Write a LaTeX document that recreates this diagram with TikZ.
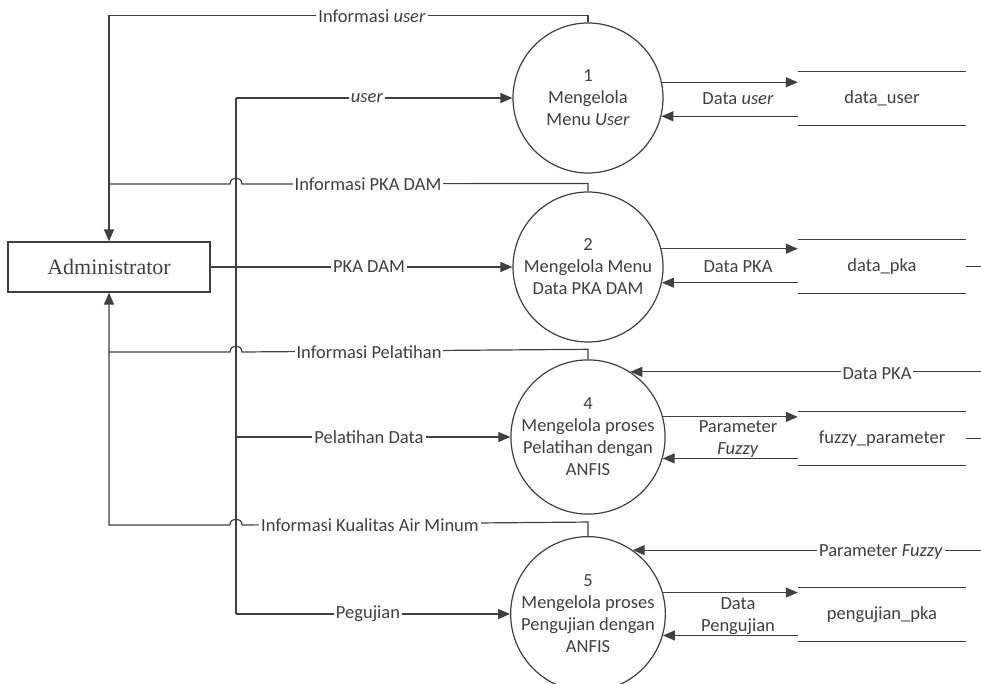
\documentclass[tikz,border=0pt]{standalone}
\usepackage{fontspec}
\setmainfont{Carlito}
\newfontfamily\admfont{Liberation Serif}
\usetikzlibrary{arrows.meta,calc}
\definecolor{ink}{HTML}{404040}
\newcommand\dfdfont{\fontsize{18.5}{22}\selectfont}
\begin{document}
\begin{tikzpicture}[x=1pt,y=-1pt,
  line/.style={draw=ink,line width=1.2pt},
  flow/.style={line,-{Triangle[length=12pt,width=10pt]}},
  proc/.style={circle,draw=ink,line width=1.2pt,minimum size=150pt,inner sep=0pt,
    align=center,text=ink,font=\dfdfont},
  store/.style={minimum width=168pt,minimum height=53pt,inner sep=0pt,text=ink,font=\dfdfont},
  lbl/.style={fill=white,inner sep=2pt,text=ink,font=\dfdfont},
  note/.style={inner sep=0pt,align=center,text=ink,font=\dfdfont},
  entity/.style={draw=ink,line width=1.2pt,minimum width=202pt,minimum height=50pt,
    inner sep=0pt,text=ink,font=\admfont\fontsize{22}{26}\selectfont}]
\useasboundingbox (0,0) rectangle (981,684);
\clip (0,0) rectangle (981,684);

% external entity
\node[entity] (adm) at (109,267) {Administrator};

% processes
\node[proc] (c1) at (588,98)  {1\\Mengelola\\Menu \textit{User}};
\node[proc] (c2) at (588,267) {2\\Mengelola Menu\\Data PKA DAM};
\node[proc] (c4) at (588,437) {4\\Mengelola proses\\Pelatihan dengan\\ANFIS};
\node[proc] (c5) at (588,614) {5\\Mengelola proses\\Pengujian dengan\\ANFIS};

% data stores (open boxes)
\node[store] (ds1) at (882,98.5)  {data\_user};
\node[store] (ds2) at (882,266.5) {data\_pka};
\node[store] (ds3) at (882,438.5) {fuzzy\_parameter};
\node[store] (ds4) at (882,614.5) {pengujian\_pka};
\foreach \s in {ds1,ds2,ds3,ds4}
  \draw[line] (\s.north west) -- (\s.north east) (\s.south west) -- (\s.south east);

% junction points on the two vertical trunks
\coordinate (busTop) at (236,98);
\coordinate (busAdm) at (236,267);
\coordinate (busPel) at (236,437);
\coordinate (busUji) at (236,614);
\coordinate (j2) at (109,184);
\coordinate (j4) at (109,352);
\coordinate (e2) at (981,266.5);
\coordinate (e3) at (981,438.5);

% inputs from the administrator
\draw[line] (adm.east) -- (busAdm);
\draw[line] (busTop) -- (busUji);
\draw[flow] (busTop) -- (c1.west);
\draw[flow] (adm.east) -- (c2.west);
\draw[flow] (busPel) -- (c4.west);
\draw[flow] (busUji) -- (c5.west);

% information flows back to the administrator (with hops over the trunk)
\draw[flow] (c1.north) -- ++(0,-7) -| (adm.north);
\draw[line] (c2.north) -- ++(0,-8) -- (242,184) .. controls (242,176) and (230,176) .. (230,184) -- (j2);
\draw[line] (c4.north) -- ++(0,-10) -- (242,352) .. controls (242,344) and (230,344) .. (230,352) -- (j4);
\draw[flow] (c5.north) -- ++(0,-14) -- (242,525) .. controls (242,517) and (230,517) .. (230,525) -| (adm.south);

% flows between processes and stores
\draw[flow] (c1.12) -- (c1.12 -| ds1.west);
\draw[flow] (c1.-14 -| ds1.west) -- (c1.-14);
\draw[flow] (c2.14) -- (c2.14 -| ds2.west);
\draw[flow] (c2.-12 -| ds2.west) -- (c2.-12);
\draw[flow] (c4.15.5) -- (c4.15.5 -| ds3.west);
\draw[flow] (c4.-16.3 -| ds3.west) -- (c4.-16.3);
\draw[flow] (c5.16.3) -- (c5.16.3 -| ds4.west);
\draw[flow] (c5.-16.3 -| ds4.west) -- (c5.-16.3);

% stubs leaving the stores to the right, and the flows coming back in
\draw[line] (ds2.east) -- (e2);
\draw[line] (ds3.east) -- (e3);
\draw[flow] (c4.57 -| e2) -- (c4.57);
\draw[flow] (c5.55.8 -| e3) -- (c5.55.8);

% flow labels
\node[lbl] at (372,16)  {Informasi \textit{user}};
\node[lbl] at (367,98)  {\textit{user}};
\node[lbl] at (368,184) {Informasi PKA DAM};
\node[lbl] at (369,267) {PKA DAM};
\node[lbl] at (369,352) {Informasi Pelatihan};
\node[lbl] at (369,437) {Pelatihan Data};
\node[lbl] at (370,525) {Informasi Kualitas Air Minum};
\node[lbl] at (368,614) {Pegujian};
\node[lbl] at (877,374) {Data PKA};
\node[lbl] at (881,552) {Parameter \textit{Fuzzy}};
\node[note] at (738,99)  {Data \textit{user}};
\node[note] at (738,267) {Data PKA};
\node[note] at (738,439) {Parameter\\\textit{Fuzzy}};
\node[note] at (738,616) {Data\\Pengujian};
\end{tikzpicture}
\end{document}
